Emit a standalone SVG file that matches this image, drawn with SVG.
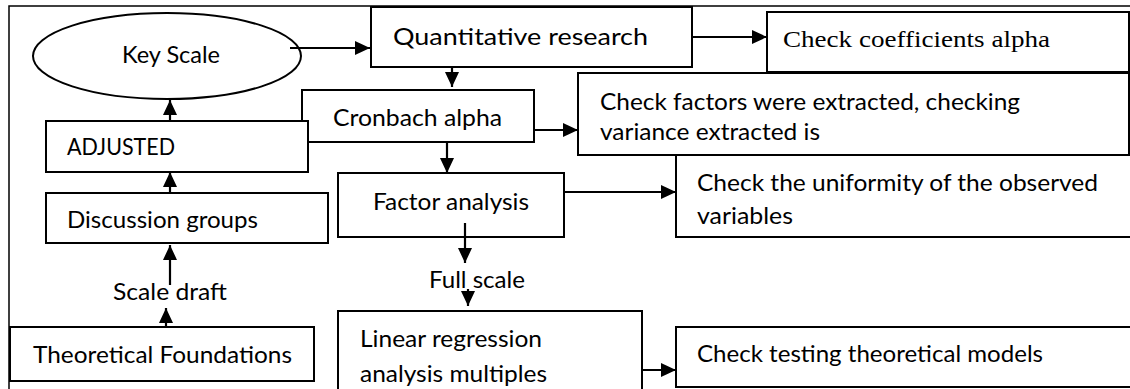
<svg xmlns="http://www.w3.org/2000/svg" width="1130" height="389" viewBox="0 0 1130 389">
<style>
.box{fill:#fff;stroke:#000;stroke-width:2}
.t{font-family:Lato,"Open Sans","Liberation Sans",sans-serif;font-size:23px;fill:#000}
.s{font-family:"Liberation Serif","Times New Roman",serif;font-size:23px;fill:#000}
.c{stroke:#000;stroke-width:2.2;fill:none;marker-end:url(#ah)}
</style>
<defs>
<marker id="ah" markerUnits="userSpaceOnUse" markerWidth="16" markerHeight="14" refX="15" refY="7" orient="auto">
<path d="M0,0 L15,7 L0,14 Z" fill="#000"/>
</marker>
</defs>
<rect x="9" y="6" width="1130" height="400" fill="#fff" stroke="#000" stroke-width="1.5"/>
<g id="key-scale">
<ellipse cx="167" cy="56" rx="134" ry="43" class="box"/>
<text class="t" x="122" y="63" textLength="98" lengthAdjust="spacingAndGlyphs">Key Scale</text>
</g>
<g id="quantitative">
<rect class="box" x="371" y="7" width="321" height="60"/>
<text class="t" x="393" y="45" font-size="25" textLength="255" lengthAdjust="spacingAndGlyphs">Quantitative research</text>
</g>
<g id="check-coefficients">
<rect class="box" x="767" y="12" width="362" height="60"/>
<text class="s" x="783" y="47" textLength="267" lengthAdjust="spacingAndGlyphs">Check coefficients alpha</text>
</g>
<g id="cronbach">
<rect class="box" x="302" y="90" width="232" height="52"/>
<text class="t" x="333" y="126" textLength="169" lengthAdjust="spacingAndGlyphs">Cronbach alpha</text>
</g>
<g id="adjusted">
<rect class="box" x="46" y="121" width="262" height="51"/>
<text class="t" x="67" y="155" textLength="108" lengthAdjust="spacingAndGlyphs">ADJUSTED</text>
</g>
<g id="check-factors">
<rect class="box" x="578" y="73" width="551" height="82"/>
<text class="t" x="600" y="110" textLength="420" lengthAdjust="spacingAndGlyphs">Check factors were extracted, checking</text>
<text class="t" x="600" y="140" textLength="220" lengthAdjust="spacingAndGlyphs">variance extracted is</text>
</g>
<g id="check-uniformity">
<rect class="box" x="676" y="155" width="470" height="82"/>
<text class="t" x="697" y="191" textLength="401" lengthAdjust="spacingAndGlyphs">Check the uniformity of the observed</text>
<text class="t" x="697" y="224" textLength="96" lengthAdjust="spacingAndGlyphs">variables</text>
</g>
<g id="factor-analysis">
<rect class="box" x="338" y="173" width="226" height="64"/>
<text class="t" x="373" y="210" textLength="156" lengthAdjust="spacingAndGlyphs">Factor analysis</text>
</g>
<g id="discussion">
<rect class="box" x="46" y="193" width="282" height="50"/>
<text class="t" x="67" y="228" textLength="191" lengthAdjust="spacingAndGlyphs">Discussion groups</text>
</g>
<g id="linear-regression">
<rect class="box" x="338" y="311" width="304" height="100"/>
<text class="t" x="360" y="347" textLength="182" lengthAdjust="spacingAndGlyphs">Linear regression</text>
<text class="t" x="360" y="382" textLength="187" lengthAdjust="spacingAndGlyphs">analysis multiples</text>
</g>
<g id="check-testing">
<rect class="box" x="676" y="327" width="470" height="60"/>
<text class="t" x="697" y="362" textLength="346" lengthAdjust="spacingAndGlyphs">Check testing theoretical models</text>
</g>
<g id="theoretical">
<rect class="box" x="10" y="327" width="304" height="54"/>
<text class="t" x="33" y="363" textLength="259" lengthAdjust="spacingAndGlyphs">Theoretical Foundations</text>
</g>
<g id="labels">
<text class="t" x="113" y="300" textLength="114" lengthAdjust="spacingAndGlyphs">Scale draft</text>
<text class="t" x="429" y="288" textLength="96" lengthAdjust="spacingAndGlyphs">Full scale</text>
</g>
<g id="connectors">
<line class="c" x1="290" y1="48" x2="370" y2="48"/>
<line class="c" x1="692" y1="37" x2="767" y2="37"/>
<line class="c" x1="452" y1="67" x2="452" y2="87"/>
<line class="c" x1="534" y1="130" x2="578" y2="130"/>
<line class="c" x1="447" y1="143" x2="447" y2="173"/>
<line class="c" x1="564" y1="192" x2="676" y2="192"/>
<line class="c" x1="465" y1="223" x2="465" y2="263"/>
<line class="c" x1="468" y1="289" x2="468" y2="306"/>
<line class="c" x1="642" y1="370" x2="676" y2="370"/>
<line class="c" x1="170" y1="121" x2="170" y2="100"/>
<line class="c" x1="170" y1="193" x2="170" y2="172"/>
<line class="c" x1="170" y1="285" x2="170" y2="245"/>
<line class="c" x1="166" y1="327" x2="166" y2="308"/>
</g>
</svg>
